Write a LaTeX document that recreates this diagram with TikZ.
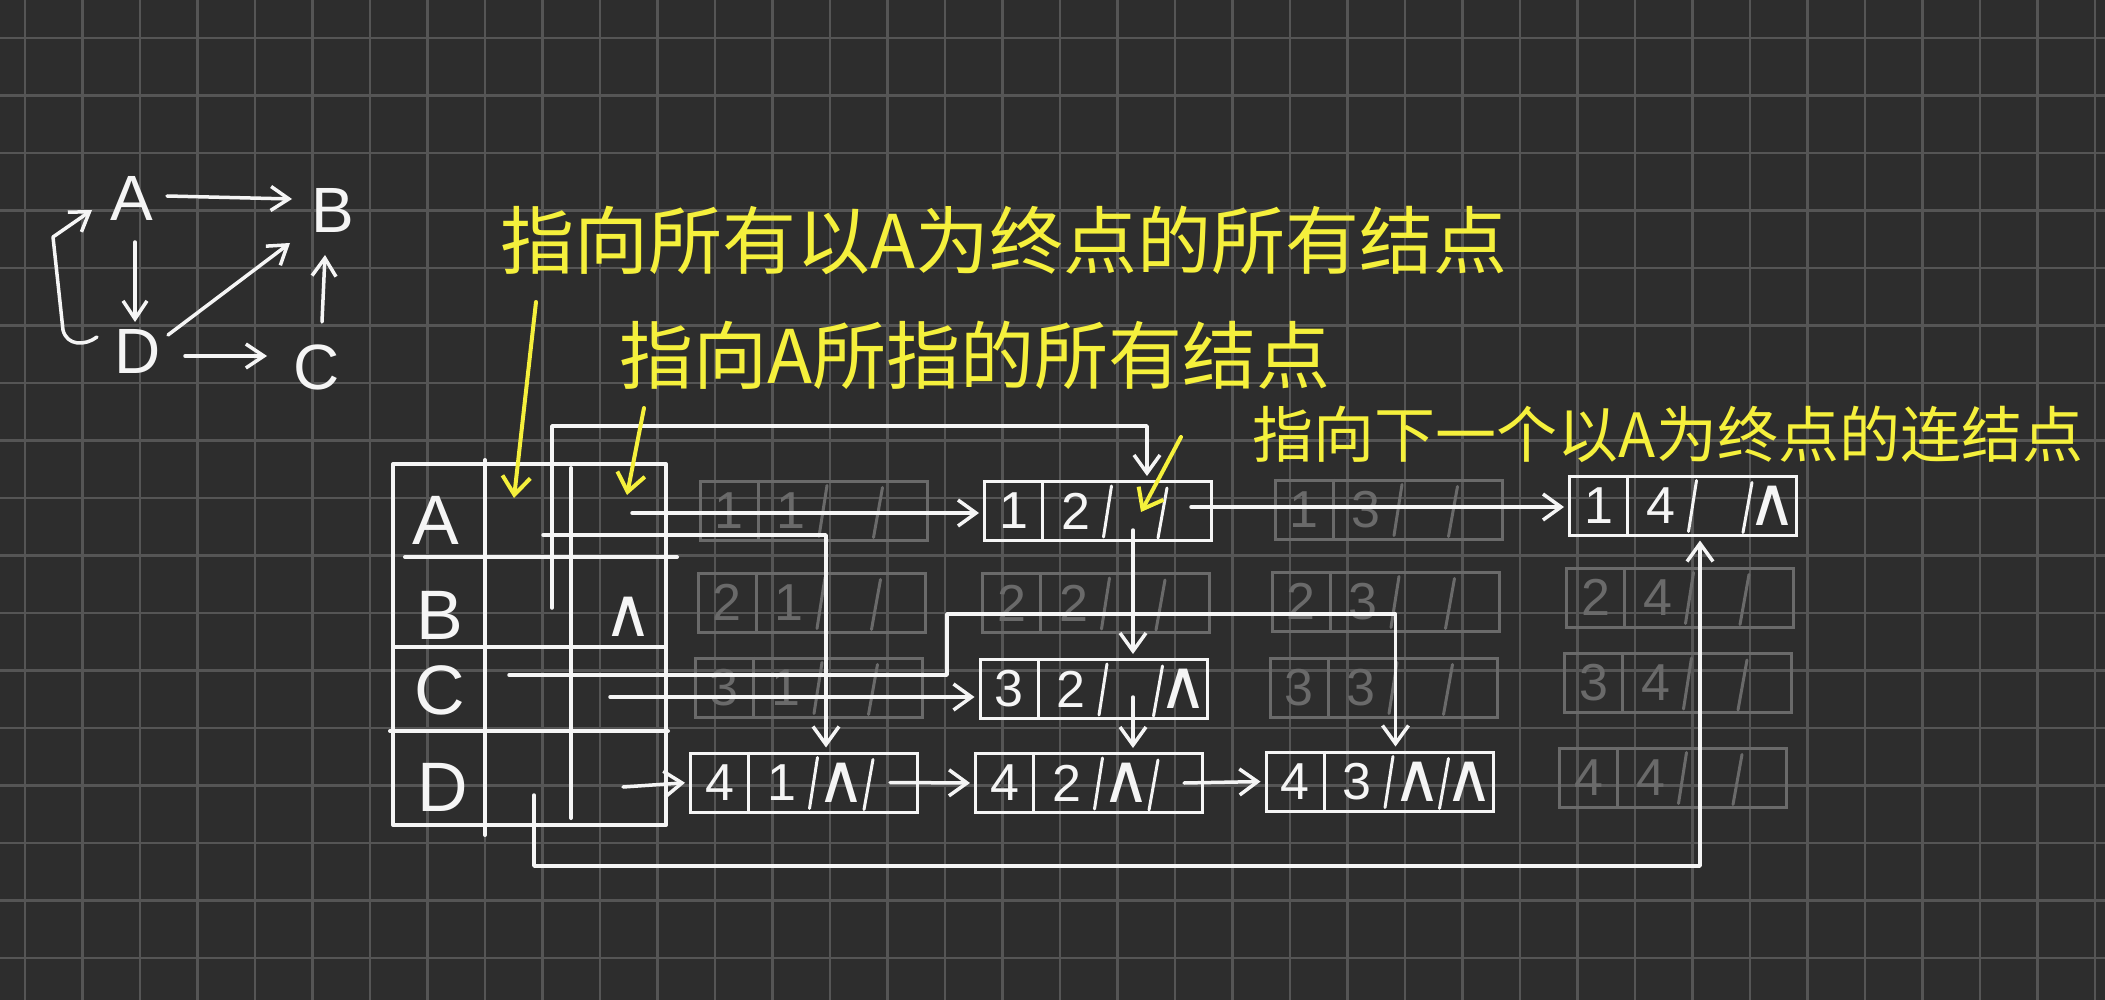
\documentclass[tikz,border=0pt]{standalone}
\usepackage{fontspec}
\setmainfont{Liberation Sans}
\newfontfamily\cjk{Noto Sans CJK SC}
\newfontfamily\dvs{DejaVu Sans}
\usetikzlibrary{arrows.meta}
\definecolor{bgc}{HTML}{2D2D2D}
\definecolor{gridc}{HTML}{555555}
\definecolor{fadec}{HTML}{6A6A6A}
\definecolor{inkc}{HTML}{F5F5F5}
\definecolor{hlc}{HTML}{F5F03C}
\tikzset{
  wl/.style={draw=inkc, line width=3.5pt, line cap=round, line join=round},
  arr/.style={-{Straight Barb[length=18pt,width=26pt,line width=3.5pt]}, shorten >=4pt},
  garr/.style={-{Straight Barb[length=18pt,width=24pt,line width=3.5pt]}},
  yl/.style={draw=hlc, line width=4pt, line cap=round},
  yarr/.style={-{Straight Barb[length=18pt,width=28pt,line width=4pt]}},
  gl/.style={text=inkc, font=\fontsize{64}{64}\selectfont, inner sep=0pt},
  tl/.style={text=inkc, font=\fontsize{70}{70}\selectfont, inner sep=0pt},
  arcbox/.style={draw=inkc, line width=3pt, minimum width=227pt, minimum height=59pt, inner sep=0pt},
  fadebox/.style={draw=fadec, line width=3pt, minimum width=227pt, minimum height=59pt, inner sep=0pt},
  digit/.style={font=\fontsize{52}{52}\selectfont, inner sep=0pt},
  nullsym/.style={font=\dvs\fontsize{68}{68}\selectfont, inner sep=0pt, text=inkc},
  ytext/.style={text=hlc, font=\cjk\fontsize{74}{74}\selectfont, inner sep=0pt},
  ytextsmall/.style={text=hlc, font=\cjk\fontsize{61}{61}\selectfont, inner sep=0pt}
}
% #1 node name, #2 colour, #3 first number, #4 second number
\newcommand\boxparts[4]{%
  \draw[#2, line width=3pt] ([xshift=-55.5]#1.north) -- ([xshift=-55.5]#1.south);
  \draw[#2, line width=3pt, line cap=round] ([xshift=13.5,yshift=-6]#1.north) -- ([xshift=5.5,yshift=5]#1.south);
  \draw[#2, line width=3pt, line cap=round] ([xshift=69,yshift=-8]#1.north) -- ([xshift=60,yshift=4]#1.south);
  \node[digit, text=#2] (#1-a) at ([xshift=-84.5]#1.center) {#3};
  \node[digit, text=#2] (#1-b) at ([xshift=-22.5]#1.center) {#4};
}
\begin{document}
\begin{tikzpicture}[x=1pt,y=-1pt]
\useasboundingbox (0,0) rectangle (2105,1000);
\fill[bgc] (0,0) rectangle (2105,1000);
\foreach \i in {0,...,36} {\draw[gridc,line width=2.5pt] ({25+57.5*\i},0) -- ({25+57.5*\i},1000);}
\foreach \j in {0,...,16} {\draw[gridc,line width=2.5pt] (0,{38+57.5*\j}) -- (2105,{38+57.5*\j});}

% ---- small graph ----
\node[gl] (gA) at (132,198) {A};
\node[gl] (gB) at (333,210) {B};
\node[gl] (gD) at (138,351) {D};
\node[gl] (gC) at (317,367) {C};
\draw[wl,garr] ([shift={(35,-2)}]gA.center) -- ([shift={(-41,-11)}]gB.center);
\draw[wl,garr] ([shift={(3,44)}]gA.center) -- ([shift={(-3,-29)}]gD.center);
\draw[wl,garr] ([shift={(30,-16)}]gD.center) -- ([shift={(-43,33)}]gB.center);
\draw[wl,garr] ([shift={(47,5)}]gD.center) -- ([shift={(-50,-11)}]gC.center);
\draw[wl,garr] ([shift={(5,-45)}]gC.center) -- ([shift={(-8,45)}]gB.center);
\draw[wl,garr] ([shift={(-41,-14)}]gD.center) .. controls (85,346) and (67,346) .. (63,330) -- (53,237) -- ([shift={(-40,12)}]gA.center);

% ---- vertex table ----
\draw[wl, line width=4pt] (393,464) rectangle (666,825);
\draw[wl, line width=4pt] (485,460) -- (485,835);
\draw[wl, line width=4pt] (571,468) -- (571,818);
\draw[wl, line width=4pt] (405,557) -- (677,557);
\draw[wl, line width=4pt] (393,647) -- (665,647);
\draw[wl, line width=4pt] (390,731) -- (668,731);
\node[tl] (tA) at (436,520) {A};
\node[tl] (tB) at (440,615) {B};
\node[tl] (tC) at (440,690) {C};
\node[tl] (tD) at (443,787) {D};
\node[nullsym] (tBnull) at (628,617) {∧};
\coordinate (cAin) at (543,535);
\coordinate (cAout) at (632,513);
\coordinate (cBin) at (552,608);
\coordinate (cCin) at (509,675);
\coordinate (cCout) at (610,697);
\coordinate (cDin) at (534,795);
\coordinate (cDout) at (623,787);

% ---- faded arc boxes ----
\node[fadebox] (f11) at (813.5,510.5) {};
\node[fadebox] (f21) at (811.5,602.5) {};
\node[fadebox] (f31) at (808.5,687.5) {};
\node[fadebox] (f22) at (1096,603) {};
\node[fadebox] (f13) at (1388.5,509.5) {};
\node[fadebox] (f23) at (1385.5,601.5) {};
\node[fadebox] (f33) at (1383.5,687.5) {};
\node[fadebox] (f24) at (1680,597.5) {};
\node[fadebox] (f34) at (1678,683) {};
\node[fadebox] (f44) at (1673,777.5) {};
\boxparts{f11}{fadec}{1}{1}
\boxparts{f21}{fadec}{2}{1}
\boxparts{f31}{fadec}{3}{1}
\boxparts{f22}{fadec}{2}{2}
\boxparts{f13}{fadec}{1}{3}
\boxparts{f23}{fadec}{2}{3}
\boxparts{f33}{fadec}{3}{3}
\boxparts{f24}{fadec}{2}{4}
\boxparts{f34}{fadec}{3}{4}
\boxparts{f44}{fadec}{4}{4}

% ---- arc boxes ----
\node[arcbox] (e12) at (1098,511) {};
\node[arcbox] (e14) at (1683,505.5) {};
\node[arcbox] (e32) at (1093.5,689) {};
\node[arcbox] (e41) at (804,782.5) {};
\node[arcbox] (e42) at (1089,783) {};
\node[arcbox] (e43) at (1379.5,781.5) {};
\boxparts{e12}{inkc}{1}{2}
\boxparts{e14}{inkc}{1}{4}
\boxparts{e32}{inkc}{3}{2}
\boxparts{e41}{inkc}{4}{1}
\boxparts{e42}{inkc}{4}{2}
\boxparts{e43}{inkc}{4}{3}
\node[nullsym] (e14-d) at ([xshift=89.5]e14.center) {∧};
\node[nullsym] (e32-d) at ([xshift=89.5]e32.center) {∧};
\node[nullsym] (e41-c) at ([xshift=37.5]e41.center) {∧};
\node[nullsym] (e42-c) at ([xshift=37.5]e42.center) {∧};
\node[nullsym] (e43-c) at ([xshift=37.5]e43.center) {∧};
\node[nullsym] (e43-d) at ([xshift=89.5]e43.center) {∧};

% ---- pointers ----
\draw[wl,arr] (cAout) -- (cAout -| e12.west);
\draw[wl,arr] (cBin) -- (552,426) -| ([xshift=49]e12.north);
\draw[wl,arr] (cAin) -| ([xshift=22]e41.north);
\draw[wl,arr] (cCin) -- (947,675) -- (947,614) -| ([xshift=16]e43.north);
\draw[wl,arr] (cCout) -- (cCout -| e32.west);
\draw[wl,arr] (cDout) -- (e41.west);
\draw[wl,arr] (cDin) -- (534,866) -| ([xshift=17]e14.south);
\coordinate (e12t) at ([shift={(93,-4)}]e12.center);
\draw[wl,arr] (e12t) -- (e12t -| e14.west);
\coordinate (e12h) at ([shift={(35,19)}]e12.center);
\draw[wl,arr] (e12h) -- (e12h |- e32.north);
\coordinate (e32h) at ([shift={(39.5,8)}]e32.center);
\draw[wl,arr] (e32h) -- (e32h |- e42.north);
\draw[wl,arr] ([xshift=-29]e41.east) -- (e42.west);
\draw[wl,arr] ([xshift=-20]e42.east) -- (e43.west);

% ---- yellow notes ----
\node[ytext] (n1) at (1004,240) {指向所有以A为终点的所有结点};
\node[ytext] (n2) at (975,355) {指向A所指的所有结点};
\node[ytextsmall] (n3) at (1668,434) {指向下一个以A为终点的连结点};
\coordinate (y1s) at (536,302);
\coordinate (y1e) at (514,498);
\coordinate (y2s) at (644,408);
\coordinate (y2e) at (627,495);
\coordinate (y3s) at (1181,437);
\coordinate (y3e) at (1141,512);
\draw[yl,yarr] (y1s) -- (y1e);
\draw[yl,yarr] (y2s) -- (y2e);
\draw[yl,yarr] (y3s) -- (y3e);
\end{tikzpicture}
\end{document}
